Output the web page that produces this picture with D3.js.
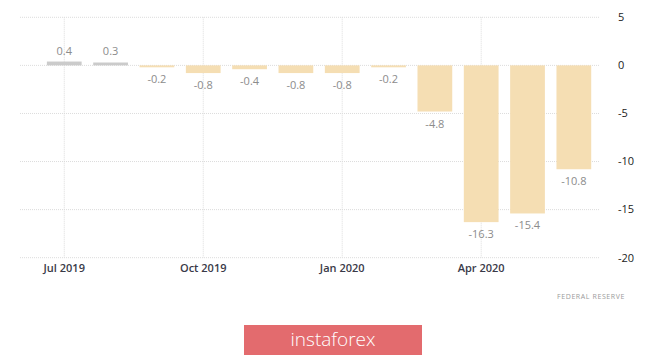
<!DOCTYPE html>
<html>
<head>
<meta charset="utf-8">
<script src="https://cdn.jsdelivr.net/npm/d3@7"></script>
<style>
	body { margin: 0; background: #fff; }
	svg { display: block; font-family: 'Open Sans', sans-serif; }
	.grid line { stroke: #dcdcdc; stroke-dasharray: 1,1; }
	.label { fill: #8c8c8c; font-size: 11px; }
	.xtick { fill: #3a3a48; font-size: 11px; font-weight: 600; }
	.ytick { fill: #222; font-size: 11px; }
</style>
</head>
<body>
<script>
var months = ['2019-07', '2019-08', '2019-09', '2019-10', '2019-11', '2019-12', '2020-01', '2020-02', '2020-03', '2020-04', '2020-05', '2020-06'];
var values = [0.4, 0.3, -0.2, -0.8, -0.4, -0.8, -0.8, -0.2, -4.8, -16.3, -15.4, -10.8];
var labels = ['0.4', '0.3', '-0.2', '-0.8', '-0.4', '-0.8', '-0.8', '-0.2', '-4.8', '-16.3', '-15.4', '-10.8'];
var xTicks = ['2019-07', '2019-10', '2020-01', '2020-04'];
var xTickLabels = ['Jul 2019', 'Oct 2019', 'Jan 2020', 'Apr 2020'];
var yTicks = [5, 0, -5, -10, -15, -20];

var width = 665;
var height = 356;

var svg = d3.select('body')
	.append('svg')
	.attr('width', width)
	.attr('height', height);

var x = d3.scaleBand()
	.domain(months)
	.range([41.1, 597])
	.paddingInner(0.25)
	.paddingOuter(0.125);

var y = d3.scaleLinear()
	.domain([-20, 5])
	.range([257.7, 17.3]);

// grid
var grid = svg.append('g').attr('class', 'grid');

grid.selectAll('line.h')
	.data(yTicks)
	.enter()
	.append('line')
	.attr('class', 'h')
	.attr('x1', 20)
	.attr('x2', 600)
	.attr('y1', function(d) { return y(d); })
	.attr('y2', function(d) { return y(d); });

grid.selectAll('line.v')
	.data(xTicks)
	.enter()
	.append('line')
	.attr('class', 'v')
	.attr('x1', function(d) { return x(d) + x.bandwidth() / 2; })
	.attr('x2', function(d) { return x(d) + x.bandwidth() / 2; })
	.attr('y1', y(5))
	.attr('y2', y(-20));

// bars
svg.selectAll('rect.bar')
	.data(values)
	.enter()
	.append('rect')
	.attr('class', 'bar')
	.attr('x', function(d, i) { return x(months[i]); })
	.attr('width', x.bandwidth())
	.attr('y', function(d) { return y(Math.max(0, d)); })
	.attr('height', function(d) { return Math.abs(y(d) - y(0)); })
	.attr('fill', function(d) { return d >= 0 ? '#cbcbcb' : '#f5deb3'; });

svg.selectAll('text.label')
	.data(values)
	.enter()
	.append('text')
	.attr('class', 'label')
	.attr('text-anchor', 'middle')
	.attr('x', function(d, i) { return x(months[i]) + x.bandwidth() / 2; })
	.attr('y', function(d) { return d >= 0 ? y(d) - 7 : y(d) + 16; })
	.text(function(d, i) { return labels[i]; });

// x axis labels
svg.selectAll('text.xtick')
	.data(xTicks)
	.enter()
	.append('text')
	.attr('class', 'xtick')
	.attr('text-anchor', 'middle')
	.attr('x', function(d) { return x(d) + x.bandwidth() / 2; })
	.attr('y', 272)
	.text(function(d, i) { return xTickLabels[i]; });

// y axis labels
svg.selectAll('text.ytick')
	.data(yTicks)
	.enter()
	.append('text')
	.attr('class', 'ytick')
	.attr('x', 618)
	.attr('y', function(d) { return y(d); })
	.attr('dy', '0.35em')
	.text(function(d) { return d; });

svg.append('text')
	.attr('x', 557)
	.attr('y', 298.5)
	.attr('fill', '#9a9a9a')
	.attr('font-size', 7)
	.attr('letter-spacing', 0.6)
	.text('FEDERAL  RESERVE');

// logo
svg.append('rect')
	.attr('x', 244)
	.attr('y', 325)
	.attr('width', 178)
	.attr('height', 30)
	.attr('fill', '#e36b6e');

svg.append('text')
	.attr('x', 333)
	.attr('y', 346)
	.attr('text-anchor', 'middle')
	.attr('fill', '#fff')
	.attr('font-size', 19)
	.attr('font-weight', 300)
	.text('instaforex');
</script>
</body>
</html>
